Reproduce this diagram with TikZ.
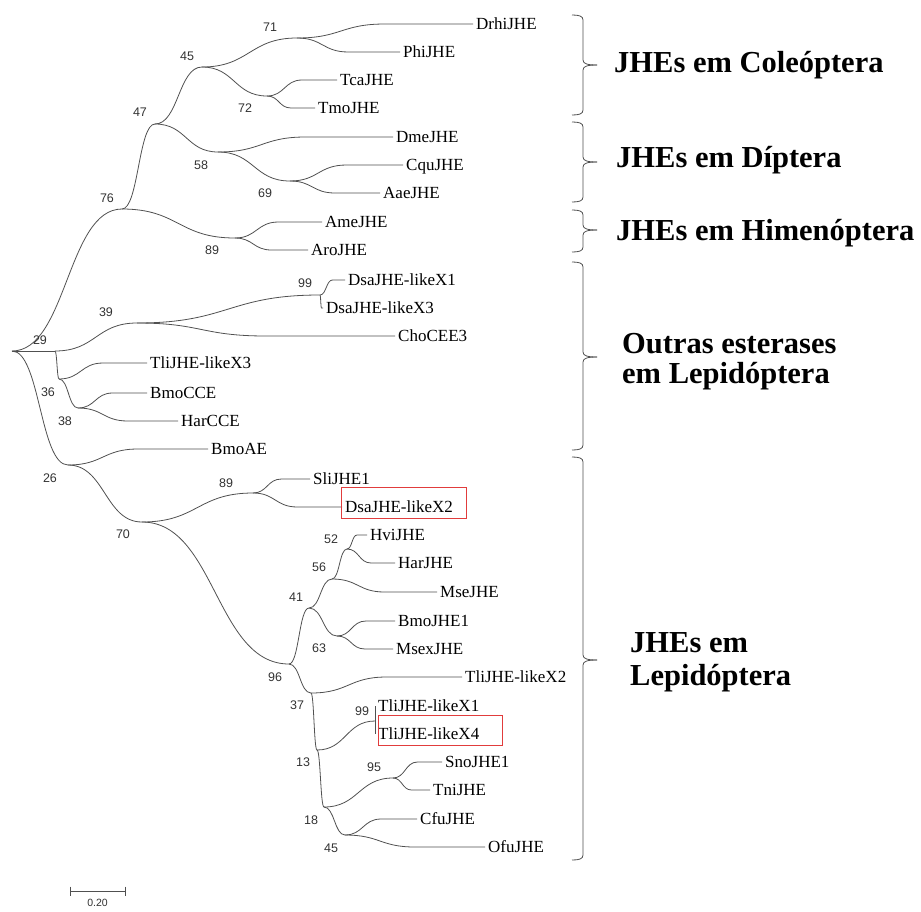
\documentclass[tikz,border=0pt]{standalone}
\usepackage{fontspec}
\setmainfont{Liberation Serif}
\newfontfamily\numfont{Liberation Sans}
\usetikzlibrary{calc}
\definecolor{linegray}{RGB}{80,80,80}
\definecolor{numgray}{RGB}{50,50,50}
\definecolor{boxred}{RGB}{225,60,60}
\newcommand{\ibr}[2]{\draw[br] (#1) .. controls ($(#1)!0.5!(#1-|#2)$) and ($(#2)!0.5!(#2-|#1)$) .. (#2);}
\newcommand{\lbr}[2]{\draw[br] (#1) .. controls ($(#1)!0.25!(#1-|#2.west)$) and ($(#2.west)!0.75!(#2.west-|#1)$) .. ($(#2.west)!0.5!(#2.west-|#1)$) -- (#2.west);}
\newcommand{\mybrace}[3]{%
\draw[bracel] (572,#1) .. controls (579,#1) and (583,#1+1) .. (583,#1+5) -- (583,#2-5) .. controls (583,#2-1) and (588,#2) .. (597,#2);
\draw[bracel] (572,#3) .. controls (579,#3) and (583,#3-1) .. (583,#3-5) -- (583,#2+5) .. controls (583,#2+1) and (588,#2) .. (597,#2);}
\begin{document}
\begin{tikzpicture}[x=1pt,y=-1pt,
  br/.style={draw=linegray, line width=0.8pt},
  bracel/.style={draw=linegray, line width=0.8pt},
  leaf/.style={anchor=west, inner xsep=3pt, inner ysep=0pt, text height=11.2pt, text depth=0pt, font=\fontsize{17}{17}\selectfont},
  bs/.style={text=numgray, inner sep=0pt, text height=9pt, text depth=0pt, font=\numfont\fontsize{12.5}{12.5}\selectfont},
  grp/.style={anchor=base west, inner sep=0pt, font=\bfseries\fontsize{30.5}{31}\selectfont},
  redbox/.style={draw=boxred, line width=0.8pt}
]
\useasboundingbox (0,0) rectangle (921,911);
% internal nodes
\coordinate (root) at (12,351);
\coordinate (n76) at (122,209);
\coordinate (n47) at (155,124);
\coordinate (n45a) at (202,67);
\coordinate (n71) at (297,38);
\coordinate (n72) at (267,96);
\coordinate (n58) at (218,152);
\coordinate (n69) at (290,181);
\coordinate (n89a) at (235,238);
\coordinate (n29) at (55,351);
\coordinate (n39) at (137,323);
\coordinate (n99a) at (320,295);
\coordinate (n36) at (59,379);
\coordinate (n38) at (78,408);
\coordinate (n26) at (68,465);
\coordinate (n70) at (142,522);
\coordinate (n89b) at (253,493);
\coordinate (n96) at (289,664);
\coordinate (n41) at (309,608);
\coordinate (n56) at (332,579);
\coordinate (n52) at (347,549);
\coordinate (n63) at (337,636);
\coordinate (n37) at (311,693);
\coordinate (n13) at (317,750);
\coordinate (n99b) at (375,721);
\coordinate (n18) at (324,807);
\coordinate (n95) at (393,778);
\coordinate (n45b) at (345,835);
% leaves
\node[leaf] (drhi) at (473,24) {DrhiJHE};
\node[leaf] (phi) at (400,52) {PhiJHE};
\node[leaf] (tca) at (337,80) {TcaJHE};
\node[leaf] (tmo) at (315,108) {TmoJHE};
\node[leaf] (dme) at (393,137) {DmeJHE};
\node[leaf] (cqu) at (403,165) {CquJHE};
\node[leaf] (aae) at (380,193) {AaeJHE};
\node[leaf] (ame) at (322,222) {AmeJHE};
\node[leaf] (aro) at (308,250) {AroJHE};
\node[leaf] (dsa1) at (345,280) {DsaJHE-likeX1};
\node[leaf] (dsa3) at (323,308) {DsaJHE-likeX3};
\node[leaf] (cho) at (395,336) {ChoCEE3};
\node[leaf] (tli3) at (147,363) {TliJHE-likeX3};
\node[leaf] (bmocce) at (147,393) {BmoCCE};
\node[leaf] (harcce) at (178,421) {HarCCE};
\node[leaf] (bmoae) at (208,449) {BmoAE};
\node[leaf] (sli) at (310,479) {SliJHE1};
\node[leaf] (dsa2) at (342,507) {DsaJHE-likeX2};
\node[leaf] (hvi) at (367,535) {HviJHE};
\node[leaf] (harjhe) at (395,563) {HarJHE};
\node[leaf] (mse) at (437,592) {MseJHE};
\node[leaf] (bmo1) at (395,621) {BmoJHE1};
\node[leaf] (msex) at (393,649) {MsexJHE};
\node[leaf] (tli2) at (462,677) {TliJHE-likeX2};
\node[leaf] (tli1) at (375,706) {TliJHE-likeX1};
\node[leaf] (tli4) at (375,734) {TliJHE-likeX4};
\node[leaf] (sno) at (442,762) {SnoJHE1};
\node[leaf] (tni) at (430,790) {TniJHE};
\node[leaf] (cfu) at (417,819) {CfuJHE};
\node[leaf] (ofu) at (485,847) {OfuJHE};
% internal branches
\ibr{root}{n76} \ibr{n76}{n47} \ibr{n47}{n45a} \ibr{n45a}{n71} \ibr{n45a}{n72}
\ibr{n47}{n58} \ibr{n58}{n69} \ibr{n76}{n89a}
\ibr{root}{n29} \ibr{n29}{n39} \ibr{n39}{n99a} \ibr{n29}{n36} \ibr{n36}{n38}
\ibr{root}{n26} \ibr{n26}{n70} \ibr{n70}{n89b} \ibr{n70}{n96}
\ibr{n96}{n41} \ibr{n41}{n56} \ibr{n56}{n52} \ibr{n41}{n63}
\ibr{n96}{n37} \ibr{n37}{n13} \ibr{n13}{n99b} \ibr{n13}{n18} \ibr{n18}{n95} \ibr{n18}{n45b}
% leaf branches
\lbr{n71}{drhi} \lbr{n71}{phi} \lbr{n72}{tca} \lbr{n72}{tmo}
\lbr{n58}{dme} \lbr{n69}{cqu} \lbr{n69}{aae}
\lbr{n89a}{ame} \lbr{n89a}{aro}
\lbr{n99a}{dsa1} \lbr{n99a}{dsa3} \lbr{n39}{cho}
\lbr{n36}{tli3} \lbr{n38}{bmocce} \lbr{n38}{harcce}
\lbr{n26}{bmoae} \lbr{n89b}{sli} \lbr{n89b}{dsa2}
\lbr{n52}{hvi} \lbr{n52}{harjhe} \lbr{n56}{mse}
\lbr{n63}{bmo1} \lbr{n63}{msex} \lbr{n37}{tli2}
\draw[br] (tli1.west) -- (tli4.west);
\lbr{n95}{sno} \lbr{n95}{tni} \lbr{n45b}{cfu} \lbr{n45b}{ofu}
% red boxes
\draw[redbox] (341,487) rectangle (466,518);
\draw[redbox] (378,715) rectangle (502,745);
% bootstrap values
\node[bs] (b71) at (270,27) {71};
\node[bs] (b45a) at (187,56) {45};
\node[bs] (b72) at (245,108) {72};
\node[bs] (b47) at (140,112) {47};
\node[bs] (b58) at (201,165) {58};
\node[bs] (b69) at (265,193) {69};
\node[bs] (b76) at (107,198) {76};
\node[bs] (b89a) at (212,250) {89};
\node[bs] (b99a) at (305,283) {99};
\node[bs] (b39) at (106,312) {39};
\node[bs] (b29) at (40,340) {29};
\node[bs] (b36) at (48,392) {36};
\node[bs] (b38) at (65,421) {38};
\node[bs] (b26) at (50,478) {26};
\node[bs] (b70) at (123,534) {70};
\node[bs] (b89b) at (226,483) {89};
\node[bs] (b52) at (331,539) {52};
\node[bs] (b56) at (319,567) {56};
\node[bs] (b41) at (296,597) {41};
\node[bs] (b63) at (319,648) {63};
\node[bs] (b96) at (275,677) {96};
\node[bs] (b37) at (297,705) {37};
\node[bs] (b99b) at (362,711) {99};
\node[bs] (b13) at (303,762) {13};
\node[bs] (b95) at (374,767) {95};
\node[bs] (b18) at (311,820) {18};
\node[bs] (b45b) at (331,848) {45};
% braces
\mybrace{15}{65}{115}
\mybrace{122}{162}{202}
\mybrace{210}{230}{252}
\mybrace{262}{357}{450}
\mybrace{457}{660}{860}
% group labels
\node[grp] (gcol) at (614,72) {JHEs em Coleóptera};
\node[grp] (gdip) at (616,167) {JHEs em Díptera};
\node[grp] (ghim) at (616,240) {JHEs em Himenóptera};
\node[grp] (gout1) at (622,353) {Outras esterases};
\node[grp] (gout2) at (622,383) {em Lepidóptera};
\node[grp] (glep1) at (630,652) {JHEs em};
\node[grp] (glep2) at (630,685) {Lepidóptera};
% scale bar
\coordinate (sb1) at (70,891);
\coordinate (sb2) at (125,891);
\draw[br] (sb1) -- (sb2);
\draw[br] ([yshift=4.5pt]sb1) -- ([yshift=-4.5pt]sb1);
\draw[br] ([yshift=4.5pt]sb2) -- ([yshift=-4.5pt]sb2);
\node[bs, font=\numfont\fontsize{10.5}{10.5}\selectfont, text height=7.5pt, anchor=north] (sblab) at ($(sb1)!0.5!(sb2)+(0,8)$) {0.20};
\end{tikzpicture}
\end{document}
